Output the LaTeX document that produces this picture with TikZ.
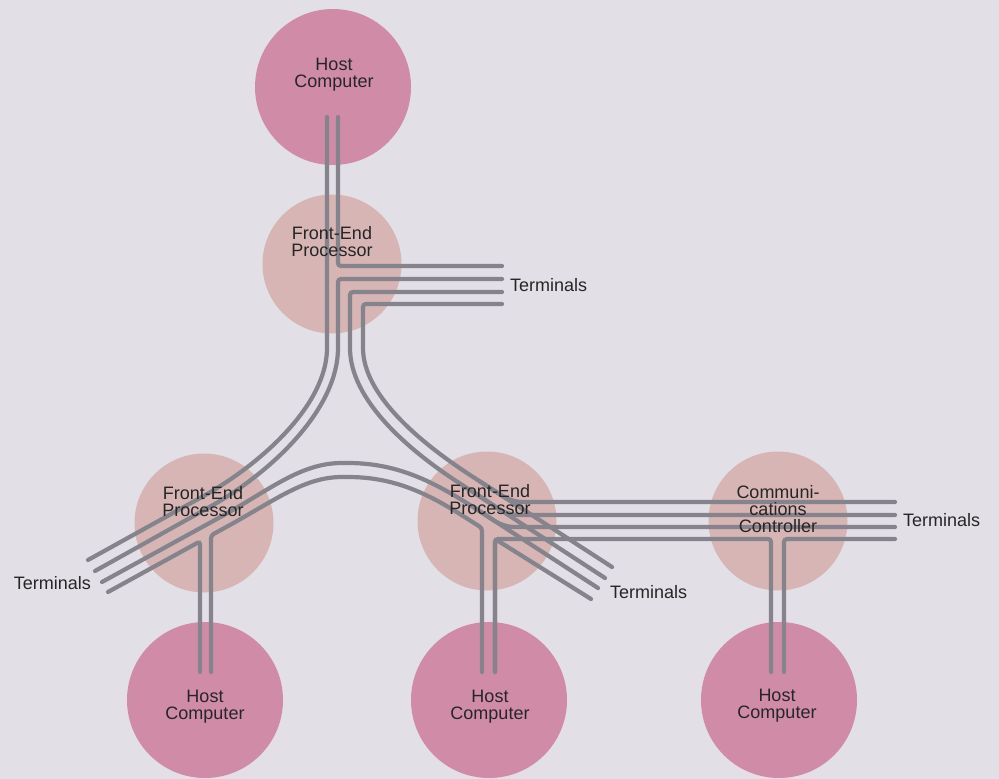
\documentclass[tikz,border=0pt]{standalone}
\usepackage{fontspec}
\setmainfont{Liberation Sans}
\definecolor{paper}{HTML}{E2DFE6}
\definecolor{hostpink}{HTML}{D08CA6}
\definecolor{feptan}{HTML}{D7B5B4}
\definecolor{wiregray}{HTML}{85848C}
\tikzset{
  host/.style={circle,fill=hostpink,minimum size=156pt,inner sep=0pt},
  fep/.style={circle,fill=feptan,minimum size=139pt,inner sep=0pt},
  lbl/.style={align=center,font=\fontsize{18}{17}\selectfont,text=black!85,inner sep=0pt},
  wire/.style={draw=wiregray,line width=4.2pt,line cap=round,rounded corners=3pt},
}
\begin{document}
\begin{tikzpicture}[x=1pt,y=-1pt]
      \fill[paper] (0,0) rectangle (999,779);
      \useasboundingbox (0,0) rectangle (999,779);
      \node[host] (hostT) at (333,87) {};
      \node[host] (hostL) at (205,700) {};
      \node[host] (hostM) at (489,700) {};
      \node[host] (hostC) at (779,700) {};
      \node[fep] (fepT) at (332,264) {};
      \node[fep] (fepL) at (204,523) {};
      \node[fep] (fepM) at (487,521) {};
      \node[fep] (fepC) at (778,521) {};
      \path
        (327,117) coordinate (hT1)
        (338,117) coordinate (hT2)
        (200,672) coordinate (hL1)
        (211,672) coordinate (hL2)
        (482,672) coordinate (hM1)
        (495,672) coordinate (hM2)
        (771,672) coordinate (hC1)
        (784,672) coordinate (hC2)
        (502,266) coordinate (tT1)
        (502,279) coordinate (tT2)
        (502,292) coordinate (tT3)
        (502,304) coordinate (tT4)
        (88,560) coordinate (tL1)
        (95,571) coordinate (tL2)
        (102,582) coordinate (tL3)
        (108,592) coordinate (tL4)
        (612,567) coordinate (tM1)
        (605,578) coordinate (tM2)
        (598,588) coordinate (tM3)
        (591,599) coordinate (tM4)
        (895,502) coordinate (tC1)
        (895,515) coordinate (tC2)
        (895,527) coordinate (tC3)
        (895,539) coordinate (tC4);
      \begin{scope}[wire]
        \draw (hT1) -- (327,345) .. controls (327,405) and (261,464) .. (200,498) -- (tL1);
        \draw (hT2) -- (338,266) -- (tT1);
        \draw (tT2) -- (338,279) -- (338,345) .. controls (338,408) and (274,471) .. (206,509) -- (tL2);
        \draw (tT3) -- (350,292) -- (350,345) .. controls (350,400) and (408,450) .. (463,485.5) -- (tM2);
        \draw (tT4) -- (363,304) -- (363,345) .. controls (363,395) and (420,442) .. (470,475) -- (tM1);
        \draw (tL3) -- (215,520) .. controls (270,490) and (300,463) .. (345,463)
          .. controls (395,463) and (430,480) .. (470,505) -- (tM3);
        \draw (hL2) -- (211,535.4) -- (225,527.7) .. controls (277,499) and (305,477) .. (345,477)
          .. controls (392,477) and (425,492) .. (463,516) -- (482,528) -- (hM1);
        \draw (hL1) -- (200,541.4) -- (tL4);
        \draw (hM2) -- (495,539) -- (771,539) -- (hC1);
        \draw (hM2) -- (495,539) -- (tM4);
        \draw[rounded corners=10pt] (480,481.5) -- (512,502) -- (tC1);
        \draw[rounded corners=10pt] (475,493.3) -- (508,515) -- (tC2);
        \draw[rounded corners=10pt] (475,508) -- (504,527) -- (tC3);
        \draw (hC2) -- (784,539) -- (tC4);
      \end{scope}
      \node[lbl] (lblHostT) at (334,75) {Host\\Computer};
      \node[lbl] (lblHostL) at (205,707) {Host\\Computer};
      \node[lbl] (lblHostM) at (490,707) {Host\\Computer};
      \node[lbl] (lblHostC) at (777,706) {Host\\Computer};
      \node[lbl] (lblFepT) at (332,242) {Front-End\\Processor};
      \node[lbl] (lblFepL) at (203,502) {Front-End\\Processor};
      \node[lbl] (lblFepM) at (490,500) {Front-End\\Processor};
      \node[lbl] (lblFepC) at (778,509) {Communi-\\cations\\Controller};
      \node[lbl,anchor=west] (termT) at (510,285) {Terminals};
      \node[lbl,anchor=east] (termL) at (91,583) {Terminals};
      \node[lbl,anchor=west] (termM) at (610,592) {Terminals};
      \node[lbl,anchor=west] (termC) at (903,520) {Terminals};
    \end{tikzpicture}
\end{document}
